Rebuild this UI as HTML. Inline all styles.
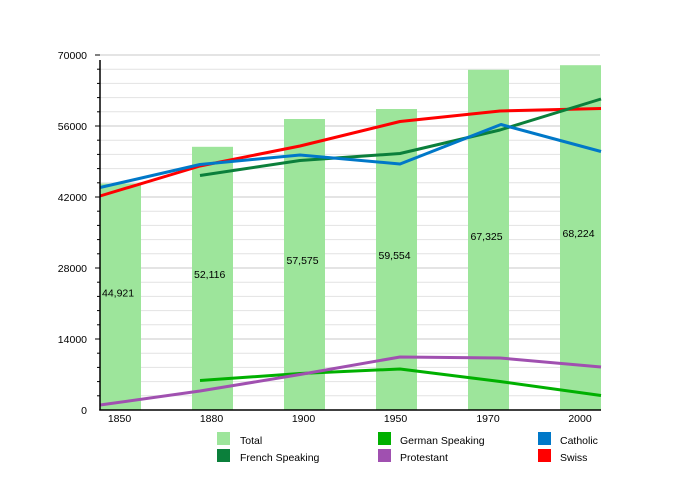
<!DOCTYPE html>
<html><head><meta charset="utf-8"><style>
html,body{margin:0;padding:0;background:#fff;}
svg{display:block;font-family:"Liberation Sans",Arial,sans-serif;}
</style></head><body>
<svg width="700" height="500" viewBox="0 0 700 500" xmlns="http://www.w3.org/2000/svg">
<rect width="700" height="500" fill="#fff"/>
<g stroke-width="1">
<line x1="100" x2="600" y1="395.8" y2="395.8" stroke="#e2e2e2"/>
<line x1="100" x2="600" y1="381.6" y2="381.6" stroke="#e2e2e2"/>
<line x1="100" x2="600" y1="367.4" y2="367.4" stroke="#e2e2e2"/>
<line x1="100" x2="600" y1="353.2" y2="353.2" stroke="#e2e2e2"/>
<line x1="95" x2="600" y1="339" y2="339" stroke="#c8c8c8"/>
<line x1="100" x2="600" y1="324.8" y2="324.8" stroke="#e2e2e2"/>
<line x1="100" x2="600" y1="310.6" y2="310.6" stroke="#e2e2e2"/>
<line x1="100" x2="600" y1="296.4" y2="296.4" stroke="#e2e2e2"/>
<line x1="100" x2="600" y1="282.2" y2="282.2" stroke="#e2e2e2"/>
<line x1="95" x2="600" y1="268" y2="268" stroke="#c8c8c8"/>
<line x1="100" x2="600" y1="253.8" y2="253.8" stroke="#e2e2e2"/>
<line x1="100" x2="600" y1="239.6" y2="239.6" stroke="#e2e2e2"/>
<line x1="100" x2="600" y1="225.4" y2="225.4" stroke="#e2e2e2"/>
<line x1="100" x2="600" y1="211.2" y2="211.2" stroke="#e2e2e2"/>
<line x1="95" x2="600" y1="197" y2="197" stroke="#c8c8c8"/>
<line x1="100" x2="600" y1="182.8" y2="182.8" stroke="#e2e2e2"/>
<line x1="100" x2="600" y1="168.6" y2="168.6" stroke="#e2e2e2"/>
<line x1="100" x2="600" y1="154.4" y2="154.4" stroke="#e2e2e2"/>
<line x1="100" x2="600" y1="140.2" y2="140.2" stroke="#e2e2e2"/>
<line x1="95" x2="600" y1="126" y2="126" stroke="#c8c8c8"/>
<line x1="100" x2="600" y1="111.8" y2="111.8" stroke="#e2e2e2"/>
<line x1="100" x2="600" y1="97.6" y2="97.6" stroke="#e2e2e2"/>
<line x1="100" x2="600" y1="83.4" y2="83.4" stroke="#e2e2e2"/>
<line x1="100" x2="600" y1="69.2" y2="69.2" stroke="#e2e2e2"/>
<line x1="95" x2="600" y1="55" y2="55" stroke="#c8c8c8"/>
</g>
<!-- minor ticks -->
<g stroke="#000" stroke-width="1">
<line x1="97" x2="100" y1="395.8" y2="395.8"/><line x1="97" x2="100" y1="381.6" y2="381.6"/><line x1="97" x2="100" y1="367.4" y2="367.4"/><line x1="97" x2="100" y1="353.2" y2="353.2"/>
<line x1="97" x2="100" y1="324.8" y2="324.8"/><line x1="97" x2="100" y1="310.6" y2="310.6"/><line x1="97" x2="100" y1="296.4" y2="296.4"/><line x1="97" x2="100" y1="282.2" y2="282.2"/>
<line x1="97" x2="100" y1="253.8" y2="253.8"/><line x1="97" x2="100" y1="239.6" y2="239.6"/><line x1="97" x2="100" y1="225.4" y2="225.4"/><line x1="97" x2="100" y1="211.2" y2="211.2"/>
<line x1="97" x2="100" y1="182.8" y2="182.8"/><line x1="97" x2="100" y1="168.6" y2="168.6"/><line x1="97" x2="100" y1="154.4" y2="154.4"/><line x1="97" x2="100" y1="140.2" y2="140.2"/>
<line x1="97" x2="100" y1="111.8" y2="111.8"/><line x1="97" x2="100" y1="97.6" y2="97.6"/><line x1="97" x2="100" y1="83.4" y2="83.4"/><line x1="97" x2="100" y1="69.2" y2="69.2"/>
<line x1="95" x2="100" y1="339" y2="339"/><line x1="95" x2="100" y1="268" y2="268"/><line x1="95" x2="100" y1="197" y2="197"/><line x1="95" x2="100" y1="126" y2="126"/><line x1="95" x2="100" y1="55" y2="55"/>
</g>
<!-- bars -->
<g fill="#9de59b">
<rect x="100" y="183.5" width="41" height="226.5"/>
<rect x="192" y="146.8" width="41" height="263.2"/>
<rect x="284" y="119" width="41" height="291"/>
<rect x="376" y="109" width="41" height="301"/>
<rect x="468" y="69.8" width="41" height="340.2"/>
<rect x="560" y="65.2" width="41" height="344.8"/>
</g>
<g font-size="10.5" fill="#000">
<text x="102" y="296.5">44,921</text>
<text x="194" y="278">52,116</text>
<text x="286.5" y="264">57,575</text>
<text x="378.5" y="259">59,554</text>
<text x="470.5" y="240">67,325</text>
<text x="562.5" y="237">68,224</text>
</g>
<!-- lines -->
<g fill="none" stroke-width="3" stroke-linejoin="round">
<polyline stroke="#ff0000" points="100,196 200,166 300,146 400,121.5 500,111 601,108.5"/>
<polyline stroke="#0b7f3b" points="200,175.5 300,160.5 400,153.5 500,130 601,99"/>
<polyline stroke="#00b000" points="200,380.5 300,373.5 400,369 500,381.5 601,395.5"/>
<polyline stroke="#0078c8" points="100,187.5 200,164.5 300,155 400,164 501,124.5 601,151.5"/>
<polyline stroke="#a050b0" points="100,405 200,391 300,374.5 400,357 500,358 601,367"/>
</g>
<!-- axes -->
<line x1="100" x2="100" y1="60" y2="410.5" stroke="#000" stroke-width="1.5"/>
<line x1="99.3" x2="601" y1="410" y2="410" stroke="#000" stroke-width="1.5"/>
<g font-size="10.5" fill="#000" text-anchor="end">
<text x="87" y="59">70000</text>
<text x="87" y="130">56000</text>
<text x="87" y="201">42000</text>
<text x="87" y="272">28000</text>
<text x="87" y="343">14000</text>
<text x="87" y="414">0</text>
</g>
<g font-size="10.5" fill="#000" text-anchor="middle">
<text x="119.5" y="422">1850</text>
<text x="211.5" y="422">1880</text>
<text x="303.5" y="422">1900</text>
<text x="395.5" y="422">1950</text>
<text x="488" y="422">1970</text>
<text x="580" y="422">2000</text>
</g>
<!-- legend -->
<rect x="217" y="432" width="13" height="13" fill="#9de59b"/>
<rect x="217" y="449" width="13" height="13" fill="#0b7f3b"/>
<rect x="378" y="432" width="13" height="13" fill="#00b000"/>
<rect x="378" y="449" width="13" height="13" fill="#a050b0"/>
<rect x="538" y="432" width="13" height="13" fill="#0078c8"/>
<rect x="538" y="449" width="13" height="13" fill="#ff0000"/>
<g font-size="10.5" fill="#000">
<text x="240" y="444">Total</text>
<text x="240" y="461">French Speaking</text>
<text x="400" y="444">German Speaking</text>
<text x="400" y="461">Protestant</text>
<text x="560" y="444">Catholic</text>
<text x="560" y="461">Swiss</text>
</g>
</svg>
</body></html>
